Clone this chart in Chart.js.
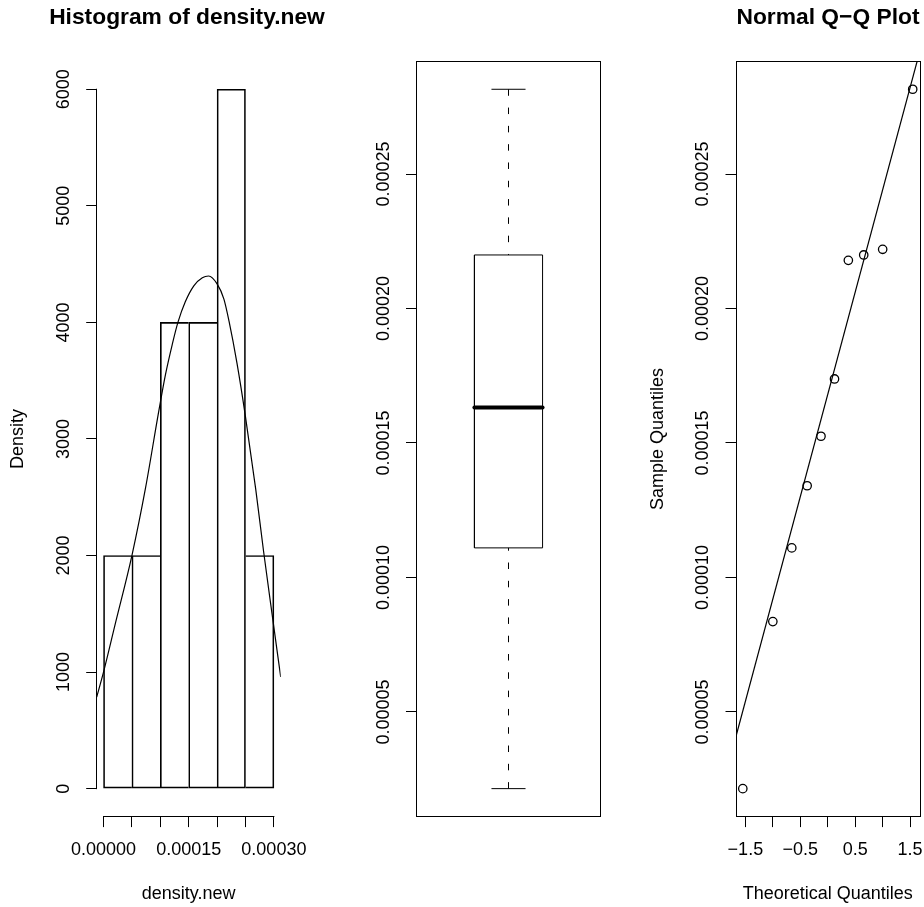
<!DOCTYPE html>
<html>
<head>
<meta charset="utf-8">
<script src="https://cdn.jsdelivr.net/npm/chart.js@4.4.1/dist/chart.umd.min.js"></script>
<style>
html, body { margin: 0; padding: 0; background: #ffffff; }
#wrap { position: relative; width: 924px; height: 907px; overflow: hidden; background: #ffffff; }
.panel { position: absolute; top: 0; height: 907px; }
.panel canvas { display: block; }
</style>
</head>
<body>
<div id="wrap">
  <div class="panel" style="left:0px;width:374px"><canvas id="c1" width="374" height="907"></canvas></div>
  <div class="panel" style="left:308px;width:308px"><canvas id="c2" width="308" height="907"></canvas></div>
  <div class="panel" style="left:616px;width:424px"><canvas id="c3" width="424" height="907"></canvas></div>
</div>
<script>
// ---------------- data ----------------
const sampleValues = [0.0000215, 0.0000836, 0.0001110, 0.0001341, 0.0001525,
                      0.0001738, 0.0002179, 0.0002199, 0.0002220, 0.0002815];
const theoreticalQuantiles = [-1.547, -1.000, -0.655, -0.375, -0.123,
                              0.123, 0.375, 0.655, 1.000, 1.547];

const histBreaks = [0, 0.00005, 0.00010, 0.00015, 0.00020, 0.00025, 0.00030];
const histDensity = [2000, 2000, 4000, 4000, 6000, 2000];

const curveX = [-0.000012, 0, 0.000021, 0.000050, 0.000074, 0.000097, 0.000109, 0.000121,
                0.000131, 0.000144, 0.000159, 0.000174, 0.000185, 0.000200, 0.000212,
                0.000221, 0.000235, 0.000250, 0.000268, 0.000282, 0.000297, 0.000312];
const curveY = [786, 1000, 1420, 2000, 2580, 3230, 3550, 3810,
                4000, 4177, 4314, 4383, 4398, 4330, 4200,
                4010, 3650, 3190, 2570, 2030, 1490, 958];

const histYTicks = [0, 1000, 2000, 3000, 4000, 5000, 6000];
const histYTickLabels = ["0", "1000", "2000", "3000", "4000", "5000", "6000"];
const histXTicks = [0, 0.00005, 0.00010, 0.00015, 0.00020, 0.00025, 0.00030];
const histXTickLabels = ["0.00000", "", "", "0.00015", "", "", "0.00030"];
const sampleTicks = [0.00005, 0.00010, 0.00015, 0.00020, 0.00025];
const sampleTickLabels = ["0.00005", "0.00010", "0.00015", "0.00020", "0.00025"];
const qqXTicks = [-1.5, -1, -0.5, 0, 0.5, 1, 1.5];
const qqXTickLabels = ["\u22121.5", "", "\u22120.5", "", "0.5", "", "1.5"];

const histTitle = "Histogram of density.new";
const histXTitle = "density.new";
const histYTitle = "Density";
const qqTitle = "Normal Q\u2212Q Plot";
const qqXTitle = "Theoretical Quantiles";
const qqYTitle = "Sample Quantiles";

// ---------------- layout / style ----------------
const FONT = "'Liberation Sans', Arial, Helvetica, sans-serif";
const BASE = 18, MAIN = 22.8, LH = 1.2;
const H = 907;
const PLOT_TOP = 61.3, PLOT_BOTTOM = 816.6;
const TICK_LEN = 10.5, YLAB_OFF = 32.5, XLAB_MID = 850.5, XTITLE_MID = 893.8, TITLE_MID = 17.3;
const BOX_HALF = 0.2, STAPLE_HALF = 0.1;
const tickFont = { family: FONT, size: BASE, lineHeight: LH };
const labFont = { family: FONT, size: BASE, lineHeight: LH };
const mainFont = { family: FONT, size: MAIN, weight: 'bold', lineHeight: LH };

const mctx = document.createElement('canvas').getContext('2d');
mctx.font = BASE + 'px ' + FONT;
const textWidth = t => mctx.measureText(t).width;

function ext(lo, hi) { const d = (hi - lo) * 0.04; return [lo - d, hi + d]; }

function gridCfg() {
  return { display: true, offset: false, drawOnChartArea: false, drawTicks: true,
           tickLength: TICK_LEN, color: '#000000', lineWidth: 1 };
}

function xAxisCfg(o) {
  return {
    type: 'linear', position: 'bottom', min: o.min, max: o.max, offset: false,
    display: true,
    afterBuildTicks: s => { s.ticks = o.ticks.map(v => ({ value: v })); },
    afterFit: s => { s.height = H - PLOT_BOTTOM; s.paddingLeft = 0; s.paddingRight = 0; },
    grid: gridCfg(),
    border: { display: false },
    ticks: { font: tickFont, color: '#000000', autoSkip: false, maxRotation: 0, minRotation: 0,
             padding: XLAB_MID - PLOT_BOTTOM - TICK_LEN - BASE * LH / 2,
             callback: (v, i) => o.labels[i] },
    title: { display: true, text: o.title, font: labFont, color: '#000000',
             padding: { top: 0, bottom: H - XTITLE_MID - BASE * LH / 2 } }
  };
}

function yAxisCfg(o) {
  const widest = Math.max.apply(null, o.labels.map(textWidth));
  return {
    type: 'linear', position: 'left', min: o.min, max: o.max,
    afterBuildTicks: s => { s.ticks = o.ticks.map(v => ({ value: v })); },
    afterFit: s => { s.width = o.width; s.paddingTop = 0; s.paddingBottom = 0; },
    grid: gridCfg(),
    border: { display: false },
    ticks: { font: tickFont, color: '#000000', autoSkip: false, minRotation: 90, maxRotation: 90,
             crossAlign: 'center', padding: YLAB_OFF - TICK_LEN - widest / 2,
             callback: (v, i) => o.labels[i] },
    title: o.title ? { display: true, text: o.title, font: labFont, color: '#000000',
                       padding: { top: o.titleMid - BASE * LH / 2, bottom: 0 } }
                   : { display: false }
  };
}

// empty right-hand spacer so the full-width main title is centred over the plot region
function spacerCfg(width) {
  return {
    type: 'linear', position: 'right', display: true,
    grid: { display: false }, border: { display: false }, ticks: { display: false },
    title: { display: false },
    afterFit: s => { s.width = width; s.paddingTop = 0; s.paddingBottom = 0; }
  };
}

function titleCfg(text) {
  if (!text) return { display: false };
  const pt = TITLE_MID - MAIN * LH / 2;
  return { display: true, text: text, font: mainFont, color: '#000000', fullSize: true,
           align: 'center', padding: { top: pt, bottom: PLOT_TOP - pt - MAIN * LH } };
}

const rAxes = {
  id: 'rAxes',
  afterDraw(chart, args, o) {
    const ctx = chart.ctx, a = chart.chartArea;
    const al = p => Math.round(p - 0.5) + 0.5;
    ctx.save();
    ctx.strokeStyle = '#000000'; ctx.lineWidth = 1; ctx.setLineDash([]);
    if (o.box) {
      ctx.strokeRect(al(a.left), al(a.top), Math.round(a.right - a.left), Math.round(a.bottom - a.top));
    }
    if (o.spanX) {
      const s = chart.scales.x, t = s.ticks, y = al(s.top);
      ctx.beginPath();
      ctx.moveTo(s.getPixelForValue(t[0].value) - 0.5, y);
      ctx.lineTo(s.getPixelForValue(t[t.length - 1].value) + 0.5, y);
      ctx.stroke();
    }
    if (o.spanY) {
      const s = chart.scales.y, t = s.ticks, x = al(s.right);
      ctx.beginPath();
      ctx.moveTo(x, s.getPixelForValue(t[0].value) + 0.5);
      ctx.lineTo(x, s.getPixelForValue(t[t.length - 1].value) - 0.5);
      ctx.stroke();
    }
    ctx.restore();
  }
};

function baseOptions(o) {
  return {
    responsive: false, animation: false, devicePixelRatio: 1, events: [],
    layout: { autoPadding: false, padding: o.padding },
    plugins: {
      legend: { display: false },
      tooltip: { enabled: false },
      title: titleCfg(o.main),
      rAxes: o.rAxes
    },
    scales: o.scales
  };
}

// ---------------- statistics derived from the sample ----------------
const sorted = sampleValues.slice().sort((a, b) => a - b);
function fivenum(s) {
  const n = s.length, n4 = Math.floor((n + 3) / 2) / 2;
  return [1, n4, (n + 1) / 2, n + 1 - n4, n].map(d => (s[Math.floor(d) - 1] + s[Math.ceil(d) - 1]) / 2);
}
function quantile7(s, p) {
  const h = (s.length - 1) * p, lo = Math.floor(h);
  return s[lo] + (h - lo) * ((s[lo + 1] !== undefined ? s[lo + 1] : s[lo]) - s[lo]);
}
const [wMin, q1, med, q3, wMax] = fivenum(sorted);
const yLim = ext(sorted[0], sorted[sorted.length - 1]);

// ---------------- panel 1 : histogram ----------------
const histXLim = ext(histBreaks[0], histBreaks[histBreaks.length - 1]);
const histYLim = ext(0, Math.max.apply(null, histDensity));
const barData = histDensity.map((d, i) => ({ x: (histBreaks[i] + histBreaks[i + 1]) / 2, y: d }));
const curveData = curveX.map((x, i) => ({ x: x, y: curveY[i] }));

new Chart(document.getElementById('c1'), {
  type: 'bar',
  data: {
    datasets: [
      {
        type: 'line', data: curveData, borderColor: '#000000', borderWidth: 1.2,
        pointRadius: 0, fill: false, cubicInterpolationMode: 'monotone', order: 0
      },
      {
        type: 'bar', data: barData, backgroundColor: 'rgba(0,0,0,0)', borderColor: '#000000',
        borderSkipped: false, barPercentage: 1, categoryPercentage: 1, order: 1,
        borderWidth: c => {
          const i = c.dataIndex, h = histDensity;
          return { top: 1, bottom: 1,
                   left: (i === 0 || h[i - 1] <= h[i]) ? 1 : 0,
                   right: (i === h.length - 1 || h[i + 1] < h[i]) ? 1 : 0 };
        }
      }
    ]
  },
  options: baseOptions({
    main: histTitle,
    padding: { left: 0, top: 0, right: 0, bottom: 0 },
    rAxes: { box: false, spanX: true, spanY: true },
    scales: {
      x: xAxisCfg({ min: histXLim[0], max: histXLim[1], ticks: histXTicks, labels: histXTickLabels, title: histXTitle }),
      y: yAxisCfg({ min: histYLim[0], max: histYLim[1], ticks: histYTicks, labels: histYTickLabels,
                    width: 96.7, title: histYTitle, titleMid: 18 }),
      yr: spacerCfg(374 - 280.7)
    }
  }),
  plugins: [rAxes]
});

// ---------------- panel 2 : boxplot ----------------
const boxLine = (pts, extra) => Object.assign({
  data: pts, showLine: true, borderColor: '#000000', borderWidth: 1, pointRadius: 0,
  fill: false, borderJoinStyle: 'miter'
}, extra || {});

new Chart(document.getElementById('c2'), {
  type: 'scatter',
  data: {
    datasets: [
      boxLine([{ x: 1 - BOX_HALF, y: med }, { x: 1 + BOX_HALF, y: med }], { borderWidth: 4, borderCapStyle: 'round' }),
      boxLine([{ x: 1 - BOX_HALF, y: q1 }, { x: 1 + BOX_HALF, y: q1 }, { x: 1 + BOX_HALF, y: q3 },
               { x: 1 - BOX_HALF, y: q3 }, { x: 1 - BOX_HALF, y: q1 }]),
      boxLine([{ x: 1, y: wMax }, { x: 1, y: q3 }], { borderDash: [6.5, 11.8] }),
      boxLine([{ x: 1, y: wMin }, { x: 1, y: q1 }], { borderDash: [6.5, 11.8] }),
      boxLine([{ x: 1 - STAPLE_HALF, y: wMax }, { x: 1 + STAPLE_HALF, y: wMax }]),
      boxLine([{ x: 1 - STAPLE_HALF, y: wMin }, { x: 1 + STAPLE_HALF, y: wMin }])
    ]
  },
  options: baseOptions({
    main: null,
    padding: { left: 0, top: PLOT_TOP, right: 308 - 292.5, bottom: H - PLOT_BOTTOM },
    rAxes: { box: true, spanX: false, spanY: false },
    scales: {
      x: { type: 'linear', display: false, min: 0.46, max: 1.54 },
      y: yAxisCfg({ min: yLim[0], max: yLim[1], ticks: sampleTicks, labels: sampleTickLabels,
                    width: 108.5, title: null })
    }
  }),
  plugins: [rAxes]
});

// ---------------- panel 3 : normal Q-Q plot ----------------
const qqXLim = ext(theoreticalQuantiles[0], theoreticalQuantiles[theoreticalQuantiles.length - 1]);
const zq = 0.6744898;
const yq1 = quantile7(sorted, 0.25), yq3 = quantile7(sorted, 0.75);
const qqSlope = (yq3 - yq1) / (2 * zq), qqInt = (yq1 + yq3) / 2;
const qqPoints = theoreticalQuantiles.map((t, i) => ({ x: t, y: sorted[i] }));
const qqLine = qqXLim.map(x => ({ x: x, y: qqInt + qqSlope * x }));

new Chart(document.getElementById('c3'), {
  type: 'scatter',
  data: {
    datasets: [
      { data: qqPoints, pointStyle: 'circle', pointRadius: 4.2, pointBorderWidth: 1.3,
        pointBorderColor: '#000000', pointBackgroundColor: 'rgba(0,0,0,0)', showLine: false },
      { data: qqLine, showLine: true, borderColor: '#000000', borderWidth: 1.2, pointRadius: 0, fill: false }
    ]
  },
  options: baseOptions({
    main: qqTitle,
    padding: { left: 0, top: 0, right: 0, bottom: 0 },
    rAxes: { box: true, spanX: false, spanY: false },
    scales: {
      x: xAxisCfg({ min: qqXLim[0], max: qqXLim[1], ticks: qqXTicks, labels: qqXTickLabels, title: qqXTitle }),
      y: yAxisCfg({ min: yLim[0], max: yLim[1], ticks: sampleTicks, labels: sampleTickLabels,
                    width: 120, title: qqYTitle, titleMid: 42.5 }),
      yr: spacerCfg(424 - 303.5)
    }
  }),
  plugins: [rAxes]
});
</script>
</body>
</html>
